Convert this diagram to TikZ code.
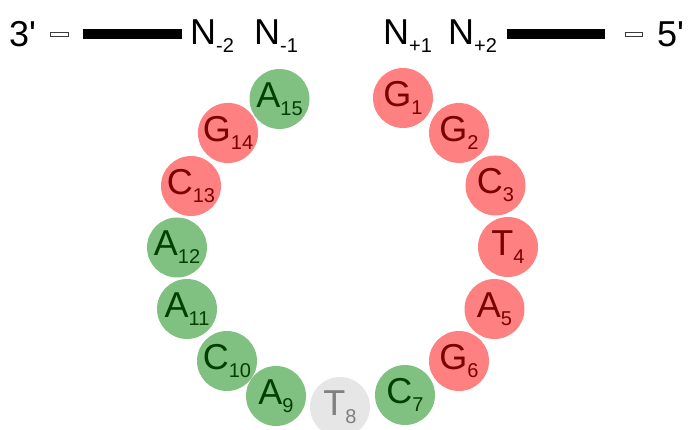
\documentclass[tikz,border=0pt]{standalone}
\usepackage{fontspec,xcolor,tikz}
\setmainfont{Liberation Sans}
\definecolor{ink}{HTML}{000000}
\definecolor{rahmen}{HTML}{3A3A3A}
\definecolor{rotfill}{HTML}{FF8080}
\definecolor{rottext}{HTML}{7A0000}
\definecolor{gruenfill}{HTML}{80C080}
\definecolor{gruentext}{HTML}{003F00}
\definecolor{graufill}{HTML}{E6E6E6}
\definecolor{grautext}{HTML}{7F7F7F}
\newcommand{\gross}{\fontsize{36}{40}\selectfont}
\newcommand{\tief}[1]{\raisebox{-8pt}{\fontsize{20}{22}\selectfont #1}}
\tikzset{baustein/.style={circle,minimum size=60pt,inner sep=0,font=\gross},
  rot/.style={baustein,fill=rotfill,text=rottext},
  gruen/.style={baustein,fill=gruenfill,text=gruentext},
  grau/.style={baustein,fill=graufill,text=grautext},
  strang/.style={fill=ink},
  ende/.style={draw=rahmen,fill=white,line width=0.8pt},
  kopf/.style={anchor=base west,inner sep=0,text=ink,font=\gross}}

\begin{document}
\begin{tikzpicture}[x=1pt,y=-1pt]
\useasboundingbox (0,0) rectangle (688,430);
% Strang oben, links
\node[kopf] (drei) at (9,47) {3\textquotesingle};
\draw[ende] (50,32) rectangle (68,36.5);
\fill[strang] (83,29) rectangle (182,39);
\node[kopf] (nm2) at (190,45) {N\tief{-2}};
\node[kopf] (nm1) at (254,45) {N\tief{-1}};
% Strang oben, rechts
\node[kopf] (np1) at (383,45) {N\tief{+1}};
\node[kopf] (np2) at (448,45) {N\tief{+2}};
\fill[strang] (507,29) rectangle (605,39);
\draw[ende] (625,32) rectangle (642,36.5);
\node[kopf] (fuenf) at (657,47) {5\textquotesingle};
% Schleife
\node[rot] (g1) at (403,98) {G\tief{1}};
\node[rot] (g2) at (459,133) {G\tief{2}};
\node[rot] (c3) at (495.5,185.5) {C\tief{3}};
\node[rot] (t4) at (508,247) {T\tief{4}};
\node[rot] (a5) at (494.5,309) {A\tief{5}};
\node[rot] (g6) at (459,361) {G\tief{6}};
\node[gruen] (c7) at (405,395) {C\tief{7}};
\node[grau] (t8) at (340,407) {T\tief{8}};
\node[gruen] (a9) at (276,396) {A\tief{9}};
\node[gruen] (c10) at (227,361) {C\tief{10}};
\node[gruen] (a11) at (187,309) {A\tief{11}};
\node[gruen] (a12) at (177,247.5) {A\tief{12}};
\node[rot] (c13) at (191,186) {C\tief{13}};
\node[rot] (g14) at (228,133) {G\tief{14}};
\node[gruen] (a15) at (279.5,99) {A\tief{15}};
\end{tikzpicture}
\end{document}
